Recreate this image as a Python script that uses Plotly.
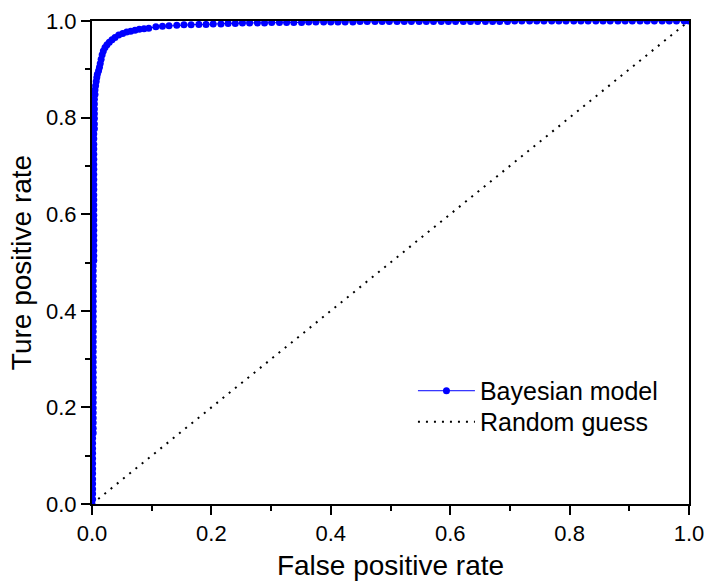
import plotly.graph_objects as go

# ROC curve of the Bayesian model
fpr_vertical = [0.000, 0.001, 0.001, 0.001, 0.001, 0.001, 0.001, 0.001, 0.001, 0.001,
                0.001, 0.001, 0.001, 0.001, 0.002, 0.002, 0.002, 0.002, 0.002, 0.002,
                0.002, 0.002, 0.002, 0.002, 0.002, 0.002, 0.002, 0.002, 0.002, 0.002,
                0.002, 0.002, 0.002, 0.002, 0.002, 0.002, 0.002, 0.002, 0.002, 0.002,
                0.002, 0.002, 0.002, 0.002, 0.002, 0.002, 0.002, 0.002, 0.003, 0.003,
                0.003, 0.003, 0.003, 0.003, 0.003, 0.003, 0.003, 0.003, 0.003, 0.003,
                0.003, 0.003, 0.003, 0.003, 0.003, 0.003, 0.003, 0.003, 0.003, 0.003,
                0.003, 0.003, 0.003, 0.003, 0.004, 0.004, 0.004, 0.004, 0.004, 0.004,
                0.004, 0.005, 0.005, 0.006, 0.007, 0.008, 0.009, 0.011]
tpr_vertical = [0.000, 0.010, 0.021, 0.031, 0.042, 0.052, 0.063, 0.073, 0.084, 0.094,
                0.105, 0.115, 0.126, 0.136, 0.147, 0.157, 0.168, 0.178, 0.189, 0.199,
                0.210, 0.220, 0.231, 0.241, 0.252, 0.262, 0.273, 0.283, 0.294, 0.304,
                0.315, 0.325, 0.336, 0.346, 0.357, 0.367, 0.378, 0.388, 0.399, 0.409,
                0.420, 0.430, 0.441, 0.451, 0.462, 0.472, 0.483, 0.493, 0.504, 0.514,
                0.525, 0.535, 0.546, 0.556, 0.567, 0.577, 0.588, 0.598, 0.609, 0.619,
                0.630, 0.640, 0.651, 0.661, 0.672, 0.682, 0.693, 0.703, 0.714, 0.724,
                0.735, 0.745, 0.756, 0.766, 0.777, 0.787, 0.798, 0.808, 0.818, 0.828,
                0.838, 0.848, 0.857, 0.866, 0.875, 0.883, 0.890, 0.897]

fpr_knee = [0.0125, 0.0138, 0.0153, 0.0170, 0.0190, 0.0218, 0.0251, 0.0290, 0.0335, 0.0385,
            0.0447, 0.0514, 0.0581, 0.0648, 0.0720, 0.0792, 0.0871, 0.0950]
tpr_knee = [0.904, 0.912, 0.921, 0.930, 0.938, 0.945, 0.951, 0.956, 0.961, 0.966,
            0.971, 0.974, 0.977, 0.979, 0.981, 0.983, 0.984, 0.985]

fpr_top = [0.107, 0.118, 0.129, 0.142, 0.154, 0.166, 0.179, 0.191, 0.203, 0.216,
           0.228, 0.240, 0.252, 0.264, 0.277, 0.289, 0.301, 0.314, 0.326, 0.338,
           0.351, 0.363, 0.375, 0.388, 0.400, 0.412, 0.424, 0.437, 0.449, 0.461,
           0.474, 0.486, 0.498, 0.511, 0.523, 0.535, 0.548, 0.560, 0.572, 0.585,
           0.597, 0.609, 0.622, 0.634, 0.646, 0.659, 0.671, 0.683, 0.696, 0.708,
           0.720, 0.733, 0.745, 0.757, 0.770, 0.782, 0.794, 0.807, 0.819, 0.831,
           0.844, 0.856, 0.868, 0.881, 0.893, 0.905, 0.918, 0.930, 0.942, 0.955,
           0.967, 0.979, 0.992, 1.000]
tpr_top = [0.988, 0.989, 0.990, 0.991, 0.992, 0.992, 0.993, 0.993, 0.994, 0.994,
           0.995, 0.995, 0.996, 0.996, 0.996, 0.996, 0.997, 0.997, 0.997, 0.997,
           0.997, 0.998, 0.998, 0.998, 0.998, 0.998, 0.998, 0.998, 0.999, 0.999,
           0.999, 0.999, 0.999, 0.999, 0.999, 0.999, 0.999, 0.999, 0.999, 0.999,
           0.999, 0.999, 0.999, 0.999, 0.999, 0.999, 0.999, 0.999, 0.999, 1.000,
           1.000, 1.000, 1.000, 1.000, 1.000, 1.000, 1.000, 1.000, 1.000, 1.000,
           1.000, 1.000, 1.000, 1.000, 1.000, 1.000, 1.000, 1.000, 1.000, 1.000,
           1.000, 1.000, 1.000, 1.000]

fpr = fpr_vertical + fpr_knee + fpr_top
tpr = tpr_vertical + tpr_knee + tpr_top

guess_x = [0.0, 1.0]
guess_y = [0.0, 1.0]

tick_vals = [0.0, 0.2, 0.4, 0.6, 0.8, 1.0]
tick_text = ["0.0", "0.2", "0.4", "0.6", "0.8", "1.0"]

FONT = "Arial, Liberation Sans, sans-serif"

fig = go.Figure()
fig.add_trace(go.Scatter(
    x=guess_x, y=guess_y, mode="lines", name="Random guess",
    line=dict(color="black", width=2, dash="2px,6px"),
    legend="legend2",
))
fig.add_trace(go.Scatter(
    x=fpr, y=tpr, mode="lines+markers", name="Bayesian model",
    line=dict(color="#0000ff", width=1),
    marker=dict(color="#0000ff", size=7, line=dict(width=0)),
    legend="legend",
))

axis_common = dict(
    range=[0, 1], tickvals=tick_vals, ticktext=tick_text,
    showgrid=False, zeroline=False, automargin=False,
    showline=True, linecolor="black", linewidth=2, mirror=True,
    ticks="outside", ticklen=9, tickwidth=2, tickcolor="black",
    minor=dict(dtick=0.1, ticks="outside", ticklen=5, tickwidth=2, tickcolor="black", showgrid=False),
    tickfont=dict(family=FONT, size=22, color="black"),
)

fig.update_layout(
    width=707, height=586,
    margin=dict(l=92, r=18, t=21, b=82),
    plot_bgcolor="white", paper_bgcolor="white",
    font=dict(family=FONT, color="black"),
    xaxis=dict(**axis_common, title=dict(text="False positive rate", font=dict(family=FONT, size=28), standoff=10)),
    yaxis=dict(**axis_common, title=dict(text="Ture positive rate", font=dict(family=FONT, size=28), standoff=6)),
    legend=dict(x=0.5376, y=0.234, xanchor="left", yanchor="middle",
                bgcolor="rgba(0,0,0,0)", font=dict(family=FONT, size=25), itemwidth=57),
    legend2=dict(x=0.5376, y=0.170, xanchor="left", yanchor="middle",
                 bgcolor="rgba(0,0,0,0)", font=dict(family=FONT, size=25), itemwidth=57),
    showlegend=True,
)

fig.write_html("out.html")
